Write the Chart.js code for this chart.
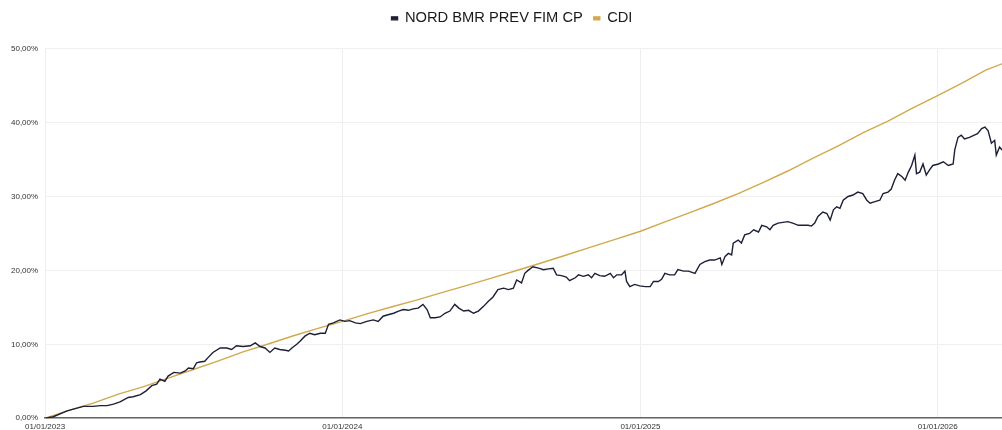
<!DOCTYPE html>
<html>
<head>
<meta charset="utf-8">
<script src="https://cdn.jsdelivr.net/npm/chart.js@4/dist/chart.umd.min.js"></script>
<style>
  html, body { margin: 0; padding: 0; background: #ffffff; overflow: hidden; }
  #wrap { width: 1002px; height: 430px; position: relative; }
</style>
</head>
<body>
<div id="wrap"><canvas id="c"></canvas></div>
<script>
// Days since 01/01/2023 for each observation
const startDate = '01/01/2023';
const seriesNames = ['NORD BMR PREV FIM CP', 'CDI'];

const fundDays = [0,10,27,47,59,68,76,84,92,102,108,117,124,131,137,141,147,151,158,166,172,176,182,186,190,196,200,206,215,223,229,235,243,252,258,264,270,276,282,288,295,299,303,309,313,319,325,331,338,344,348,354,362,368,374,381,387,395,403,409,415,421,428,434,440,446,452,458,464,469,473,479,485,491,497,503,508,514,520,526,532,538,544,550,556,563,569,575,579,585,589,593,599,606,612,618,624,628,634,640,644,651,655,661,667,671,675,681,687,694,698,702,708,712,714,718,724,730,737,743,747,753,757,761,767,773,777,784,790,798,804,810,816,822,829,831,835,839,843,845,851,855,859,865,870,876,880,886,890,894,900,906,912,918,925,931,937,941,945,949,955,960,964,968,972,976,980,986,992,998,1004,1009,1013,1019,1025,1029,1035,1039,1043,1047,1052,1056,1060,1064,1068,1070,1074,1078,1082,1086,1090,1097,1103,1109,1115,1117,1121,1125,1129,1135,1141,1145,1150,1154,1158,1162,1166,1168,1172,1175];
const fundValues = [0,0.2,1.0,1.6,1.6,1.7,1.7,1.9,2.2,2.8,2.9,3.2,3.7,4.4,4.6,5.3,5.0,5.7,6.2,6.1,6.4,6.8,6.7,7.5,7.6,7.7,8.2,8.9,9.5,9.5,9.3,9.8,9.7,9.8,10.2,9.7,9.5,8.9,9.5,9.3,9.2,9.1,9.5,10.0,10.4,11.1,11.5,11.3,11.5,11.5,12.7,12.9,13.3,13.1,13.2,12.9,12.8,13.1,13.3,13.1,13.8,14.0,14.2,14.5,14.7,14.6,14.8,14.9,15.4,14.7,13.6,13.6,13.7,14.2,14.5,15.4,14.9,14.5,14.6,14.2,14.5,15.1,15.8,16.4,17.4,17.6,17.4,17.6,18.7,18.3,19.6,20.0,20.5,20.3,20.1,20.2,20.3,19.4,19.3,19.1,18.6,19.0,19.4,19.2,19.4,19.0,19.6,19.3,19.2,19.6,19.0,19.4,19.4,19.9,18.5,17.8,18.1,17.9,17.8,17.8,18.5,18.5,18.8,19.6,19.4,19.4,20.1,19.9,19.9,19.6,20.8,21.2,21.4,21.4,21.7,20.8,21.9,22.3,22.1,23.7,24.1,23.7,24.8,25.0,25.5,25.2,26.1,25.9,25.5,26.1,26.4,26.5,26.6,26.4,26.1,26.1,26.1,26.0,26.4,27.3,27.9,27.7,26.8,28.2,28.6,28.4,29.5,30.0,30.2,30.6,30.4,29.5,29.1,29.3,29.5,30.4,30.6,31.0,32.2,33.1,32.7,32.2,33.3,34.2,35.6,33.1,33.3,34.4,32.9,33.6,34.2,34.4,34.7,34.2,34.4,36.3,38.0,38.3,37.8,38.0,38.3,38.5,39.2,39.4,38.9,37.2,37.6,35.6,36.7,36.3];

const cdiDays = [0,31,59,90,120,151,181,212,243,273,304,334,365,396,425,456,486,517,547,578,609,639,670,700,731,762,790,821,851,882,912,943,974,1004,1035,1065,1096,1127,1155,1175];
const cdiValues = [0,1.12,2.05,3.26,4.23,5.42,6.56,7.73,8.97,10.01,11.12,12.12,13.1,14.15,15.05,15.97,16.95,17.93,18.92,19.95,21.0,22.05,23.15,24.2,25.3,26.6,27.75,29.05,30.4,31.9,33.45,35.2,36.85,38.6,40.2,41.95,43.65,45.4,47.1,47.95];

const xTickDays = [0,365,731,1096];
const xTickLabels = ['01/01/2023','01/01/2024','01/01/2025','01/01/2026'];
const yTickValues = [0,10,20,30,40,50];

const fundColor = '#1c1f36';
const cdiColor = '#d2a84c';

const toPoints = (xs, ys) => xs.map((d, i) => ({ x: d, y: ys[i] }));

const legendSpacing = {
  id: 'legendSpacing',
  beforeInit(chart) {
    const origFit = chart.legend.fit;
    chart.legend.fit = function () {
      origFit.bind(chart.legend)();
      this.height += 13;
    };
  },
  afterLayout(chart) {
    chart.legend.left += 9;
    chart.legend.right += 9;
  }
};

new Chart(document.getElementById('c'), {
  type: 'line',
  data: {
    datasets: [
      { label: seriesNames[0], data: toPoints(fundDays, fundValues), borderColor: fundColor, backgroundColor: fundColor, borderWidth: 1.4, pointRadius: 0, tension: 0 },
      { label: seriesNames[1], data: toPoints(cdiDays, cdiValues), borderColor: cdiColor, backgroundColor: cdiColor, borderWidth: 1.4, pointRadius: 0, tension: 0 }
    ]
  },
  plugins: [legendSpacing],
  options: {
    responsive: true,
    maintainAspectRatio: false,
    animation: false,
    layout: { padding: { left: 4, right: 0, top: 0, bottom: 0 } },
    plugins: {
      tooltip: { enabled: false },
      legend: {
        position: 'top',
        align: 'center',
        labels: {
          boxWidth: 6, boxHeight: 3, padding: 11,
          color: '#1a1a1a',
          font: { family: 'Liberation Sans, Arial, sans-serif', size: 14.7 }
        }
      }
    },
    scales: {
      x: {
        type: 'linear',
        min: fundDays[0],
        max: fundDays[fundDays.length - 1],
        afterBuildTicks: (axis) => { axis.ticks = xTickDays.map(v => ({ value: v })); },
        afterFit: (axis) => { axis.height = 11; },
        ticks: {
          autoSkip: false, maxRotation: 0, padding: 4,
          color: '#333333',
          font: { family: 'Liberation Sans, Arial, sans-serif', size: 8 },
          callback: (v) => { const i = xTickDays.indexOf(v); return i >= 0 ? xTickLabels[i] : ''; }
        },
        grid: { color: '#eeeeee', drawTicks: false },
        border: { color: '#666666', width: 1.5 }
      },
      y: {
        min: 0, max: 50,
        afterBuildTicks: (axis) => { axis.ticks = yTickValues.map(v => ({ value: v })); },
        ticks: {
          padding: 7,
          color: '#333333',
          font: { family: 'Liberation Sans, Arial, sans-serif', size: 8 },
          callback: (v) => v.toFixed(2).replace('.', ',') + '%'
        },
        grid: { color: '#f0f0f0', drawTicks: false },
        border: { display: false }
      }
    }
  }
});
</script>
</body>
</html>
